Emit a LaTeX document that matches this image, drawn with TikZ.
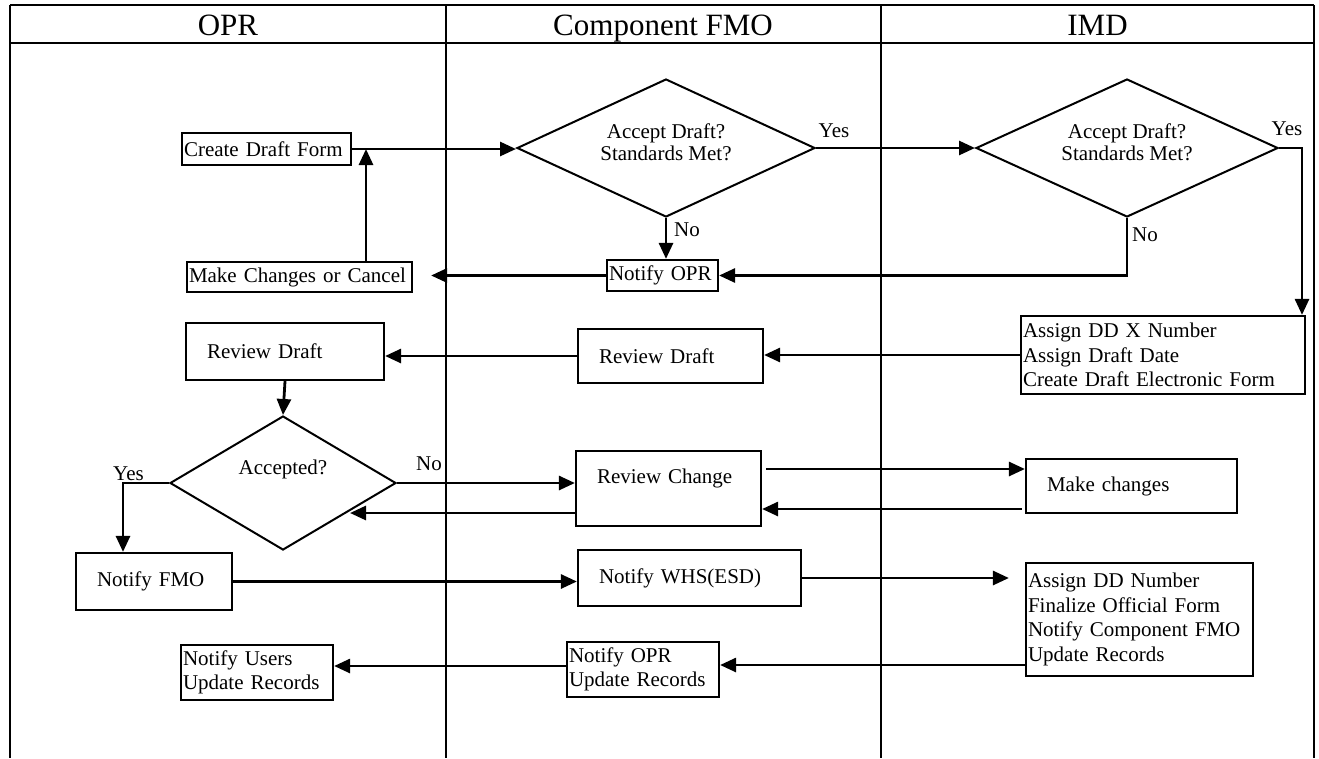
\documentclass[tikz,border=0pt]{standalone}
\usepackage{fontspec}
\setmainfont{Liberation Serif}
\usetikzlibrary{shapes.geometric,arrows.meta,calc}
\begin{document}
\begin{tikzpicture}[x=1pt,y=-1pt,
  frame/.style={line width=2pt},
  lane/.style={line width=1.5pt},
  hdr/.style={font=\fontsize{31}{36}\selectfont, inner sep=0pt, anchor=base},
  bx/.style={draw, line width=2.2pt, rectangle, inner ysep=0pt, align=left, font=\fontsize{21}{24.5}\selectfont},
  dia/.style={draw, line width=2pt, diamond, inner sep=0pt},
  dtxt/.style={font=\fontsize{21}{21.5}\selectfont, inner sep=0pt, align=center},
  lbl/.style={font=\fontsize{21}{24.5}\selectfont, inner sep=0pt},
  arr/.style={line width=2.8pt, -{Triangle[length=16pt,width=14pt]}}
]
\useasboundingbox (0,0) rectangle (1319,758);
% swimlane frame
\draw[frame] (10,5) -- (1314,5);
\draw[frame] (10,43) -- (1314,43);
\draw[frame] (10,5) -- (10,758);
\draw[frame] (1314,5) -- (1314,758);
\draw[lane] (446,5) -- (446,758);
\draw[lane] (881,5) -- (881,758);
\node[hdr] (hopr) at (228,35) {OPR};
\node[hdr] (hfmo) at (663,35) {Component FMO};
\node[hdr] (himd) at (1097.5,35) {IMD};

% boxes
\node[bx, minimum height=32pt, text width=165pt, inner xsep=2pt] (cdf) at (266.5,149) {Create Draft Form};
\node[bx, minimum height=30pt, text width=221pt, inner xsep=2pt] (mcc) at (299.5,277) {Make Changes or Cancel};
\node[bx, minimum height=31pt, text width=107pt, inner xsep=2pt] (nopr1) at (662.5,275.5) {Notify OPR};
\node[bx, minimum height=57pt, text width=156pt, inner xsep=21pt] (rd1) at (285,351.5) {Review Draft};
\node[bx, minimum height=54pt, text width=143pt, inner xsep=21pt] (rd2) at (670.5,356) {Review Draft};
\node[bx, minimum height=78pt, text width=280pt, inner xsep=2pt] (adx) at (1163,355) {Assign DD X Number\\Assign Draft Date\\Create Draft Electronic Form};
\node[bx, minimum height=75pt, text width=143pt, inner xsep=21pt] (rc) at (668.5,488.5) {Review Change\\\mbox{}};
\node[bx, minimum height=54pt, text width=169pt, inner xsep=21pt] (mc) at (1131.5,486) {Make changes};
\node[bx, minimum height=57pt, text width=114pt, inner xsep=21pt] (nfmo) at (154,581.5) {Notify FMO};
\node[bx, minimum height=56pt, text width=181pt, inner xsep=21pt] (nwhs) at (689.5,578) {Notify WHS(ESD)};
\node[bx, minimum height=113pt, text width=223pt, inner xsep=2pt] (add) at (1139.5,619.5) {Assign DD Number\\Finalize Official Form\\Notify Component FMO\\Update Records};
\node[bx, minimum height=55pt, text width=148pt, inner xsep=2pt] (nopr2) at (643,669.5) {Notify OPR\\Update Records};
\node[bx, minimum height=55pt, text width=148pt, inner xsep=2pt] (nu) at (257,672.5) {Notify Users\\Update Records};

% decisions
\node[dia, minimum width=298pt, minimum height=138pt] (d1) at (666,148) {};
\node[dtxt] (d1t) at ($(d1)+(0,-5.5)$) {Accept Draft?\\Standards Met?};
\node[dia, minimum width=302pt, minimum height=138pt] (d2) at (1127,148) {};
\node[dtxt] (d2t) at ($(d2)+(0,-5.5)$) {Accept Draft?\\Standards Met?};
\node[dia, minimum width=226pt, minimum height=134pt] (d3) at (283,483) {};
\node[dtxt] (d3t) at ($(d3)+(0,-14)$) {Accepted?};

% connectors
\coordinate (j1) at (366,149);
\draw[arr] (cdf.east) -- (cdf.east -| d1.west);
\draw[arr] (j1 |- mcc.north) -- (j1);
\draw[arr] (d1.south) -- (d1.south |- nopr1.north);
\draw[arr] (d1.east) -- (d2.west);
\coordinate (j2) at (1302,148);
\draw[arr] (d2.east) -- (j2) -- (j2 |- adx.north);
\draw[arr] (d2.south) |- (nopr1.east);
\draw[arr, shorten >=18pt] (nopr1.west) -- (nopr1.west -| mcc.east);
\draw[arr] (adx.west) -- (adx.west -| rd2.east);
\draw[arr] (rd2.west) -- (rd2.west -| rd1.east);
\draw[arr] (rd1.south) -- (d3.north);
\coordinate (j4) at (123,483);
\draw[arr] (d3.west) -- (j4) -- (j4 |- nfmo.north);
\draw[arr] (d3.east) -- (d3.east -| rc.west);
\coordinate (j5) at (350,513);
\draw[arr] (rc.west |- j5) -- (j5);
\coordinate (yA) at (0,469);
\coordinate (yB) at (0,509);
\draw[arr] ($(rc.east |- yA)+(4,0)$) -- (mc.west |- yA);
\draw[arr] ($(mc.west |- yB)+(-3,0)$) -- (rc.east |- yB);
\draw[arr] (nfmo.east) -- (nfmo.east -| nwhs.west);
\draw[arr, shorten >=16pt] (nwhs.east) -- (nwhs.east -| add.west);
\coordinate (yC) at (0,665);
\coordinate (yD) at (0,666);
\draw[arr] (add.west |- yC) -- (nopr2.east |- yC);
\draw[arr] (nopr2.west |- yD) -- (nu.east |- yD);

% labels
\node[lbl, anchor=west] (no1) at (674,230) {No};
\node[lbl] (yes1) at (834,131) {Yes};
\node[lbl] (yes2) at (1287,129) {Yes};
\node[lbl, anchor=west] (no2) at (1132,235) {No};
\node[lbl] (yes3) at (128.5,474) {Yes};
\node[lbl] (no3) at (429,464) {No};
\end{tikzpicture}
\end{document}
